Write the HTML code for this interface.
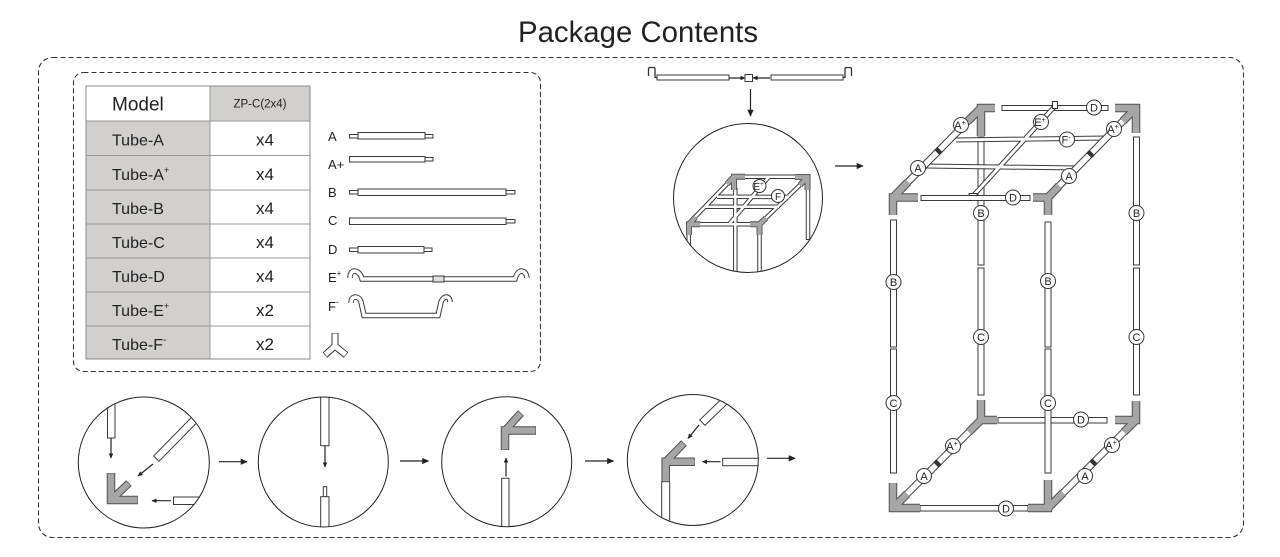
<!DOCTYPE html>
<html><head><meta charset="utf-8"><style>
html,body{margin:0;padding:0;background:#fff;width:1280px;height:557px;overflow:hidden;}
svg{display:block;}
text{font-family:"Liberation Sans",sans-serif;fill:#222;}
.t{fill:#fff;stroke:#3a3a3a;stroke-width:1;}
.dk{fill:none;stroke:#3a3a3a;stroke-linecap:butt;}
.wh{fill:none;stroke:#fff;stroke-linecap:butt;}
.gd{fill:none;stroke:#505050;stroke-width:8.5;stroke-linejoin:miter;stroke-linecap:butt;}
.gl{fill:none;stroke:#a6a6a6;stroke-width:6.5;stroke-linejoin:miter;stroke-linecap:butt;}
.lb{fill:#fff;stroke:#333;stroke-width:1;}
.ar{stroke:#222;stroke-width:1.2;fill:none;}
</style></head><body>
<svg width="1280" height="557" viewBox="0 0 1280 557" xmlns="http://www.w3.org/2000/svg">
<defs>
<marker id="ah" viewBox="0 0 10 10" refX="9" refY="5" markerWidth="9" markerHeight="7" markerUnits="userSpaceOnUse" orient="auto"><path d="M0,0.5 L10,5 L0,9.5z" fill="#222"/></marker>
<marker id="as" viewBox="0 0 10 10" refX="9" refY="5" markerWidth="6" markerHeight="5" markerUnits="userSpaceOnUse" orient="auto"><path d="M0,0.5 L10,5 L0,9.5z" fill="#222"/></marker>
<clipPath id="c0"><circle cx="748" cy="198" r="74.5"/></clipPath>
<clipPath id="c1"><circle cx="143.8" cy="462.5" r="65"/></clipPath>
<clipPath id="c2"><circle cx="323.3" cy="462" r="65"/></clipPath>
<clipPath id="c3"><circle cx="506.7" cy="461.7" r="65"/></clipPath>
<clipPath id="c4"><circle cx="692.8" cy="460" r="65"/></clipPath>
</defs>

<!-- Title -->
<text x="638" y="42" font-size="30" text-anchor="middle" textLength="240" lengthAdjust="spacingAndGlyphs">Package Contents</text>

<!-- Dashed boxes -->
<rect x="38.5" y="57.5" width="1205" height="480" rx="14" fill="none" stroke="#333" stroke-width="1.1" stroke-dasharray="5 3"/>
<rect x="73.5" y="72.5" width="467" height="299" rx="10" fill="none" stroke="#333" stroke-width="1.1" stroke-dasharray="5 3"/>

<!-- Table -->
<rect x="86" y="86" width="124" height="35" fill="#fff"/>
<rect x="210" y="86" width="100" height="35" fill="#d1d0ce"/>
<rect x="86" y="121" width="124" height="238" fill="#d1d0ce"/>
<rect x="210" y="121" width="100" height="238" fill="#fff"/>
<g stroke="#9a9a9a" stroke-width="1">
<line x1="86" y1="121" x2="310" y2="121"/>
<line x1="86" y1="155.5" x2="310" y2="155.5"/>
<line x1="86" y1="190" x2="310" y2="190"/>
<line x1="86" y1="224" x2="310" y2="224"/>
<line x1="86" y1="258" x2="310" y2="258"/>
<line x1="86" y1="292" x2="310" y2="292"/>
<line x1="86" y1="326" x2="310" y2="326"/>
<line x1="210" y1="86" x2="210" y2="359"/>
<rect x="86" y="86" width="224" height="273" fill="none" stroke="#888"/>
</g>
<text x="112" y="110.5" font-size="19">Model</text>
<text x="260" y="107.5" font-size="11.5" text-anchor="middle">ZP-C(2x4)</text>
<g font-size="16">
<text x="112" y="145.5">Tube-A</text>
<text x="112" y="180">Tube-A<tspan font-size="9" dy="-7">+</tspan></text>
<text x="112" y="214">Tube-B</text>
<text x="112" y="248">Tube-C</text>
<text x="112" y="282">Tube-D</text>
<text x="112" y="316">Tube-E<tspan font-size="9" dy="-7">+</tspan></text>
<text x="112" y="350">Tube-F<tspan font-size="10" dy="-7">-</tspan></text>
</g>
<g font-size="17" text-anchor="middle">
<text x="265" y="145.5">x4</text>
<text x="265" y="180">x4</text>
<text x="265" y="214">x4</text>
<text x="265" y="248">x4</text>
<text x="265" y="282">x4</text>
<text x="265" y="316">x2</text>
<text x="265" y="350">x2</text>
</g>

<!-- Tube list -->
<g font-size="13">
<text x="328" y="141">A</text>
<text x="328" y="169">A+</text>
<text x="328" y="197">B</text>
<text x="328" y="225">C</text>
<text x="328" y="254">D</text>
<text x="328" y="282">E<tspan font-size="8" dy="-6">+</tspan></text>
<text x="328" y="311">F<tspan font-size="9" dy="-6">-</tspan></text>
</g>
<g class="t">
<rect x="349.5" y="134.5" width="8.5" height="3.5"/>
<rect x="358" y="132.5" width="67" height="6.5"/>
<rect x="425" y="134.5" width="8" height="3.5"/>

<rect x="349.5" y="156.5" width="75.5" height="5.5"/>
<rect x="425" y="157.5" width="8" height="3.5"/>

<rect x="349.5" y="190.5" width="8.5" height="3.5"/>
<rect x="358" y="189" width="148" height="6.5"/>
<rect x="506" y="190.5" width="9" height="3.5"/>

<rect x="349.5" y="218" width="156.5" height="6.5"/>
<rect x="506" y="219.5" width="9" height="3.5"/>

<rect x="349.5" y="248" width="8.5" height="3.5"/>
<rect x="358" y="246.5" width="66" height="6.5"/>
<rect x="424" y="248" width="8" height="3.5"/>
</g>
<!-- E+ -->
<path class="dk" stroke-width="5.5" d="M350,278 Q350,271 355,271 Q360,272 362,279 L515,279 Q517,272 521,271 Q526,271 527,278"/>
<path class="wh" stroke-width="3.5" d="M350,278 Q350,271 355,271 Q360,272 362,279 L515,279 Q517,272 521,271 Q526,271 527,278"/>
<rect x="433" y="276" width="11" height="6" fill="#ddd" stroke="#3a3a3a" stroke-width="1"/>
<!-- F- -->
<path class="dk" stroke-width="5.5" d="M351,303 Q351,297 356,297 Q360,298 361,302 L364,315.5 L438,315.5 L441,302 Q443,297 447,297 Q450,298 450,302"/>
<path class="wh" stroke-width="3.5" d="M351,303 Q351,297 356,297 Q360,298 361,302 L364,315.5 L438,315.5 L441,302 Q443,297 447,297 Q450,298 450,302"/>
<!-- Y connector -->
<path class="dk" stroke-width="7" d="M335,333 L335,346 M335,346 L325,355 M335,346 L346,355"/>
<path class="wh" stroke-width="5" d="M335,333.5 L335,346 M335,346 L325.5,354.5 M335,346 L345.5,354.5"/>

<!-- Top center assembly -->
<path d="M657,77.5 L655,77.5 L655,69 Q655,67.5 653.5,67.5 L650,67.5 Q648.5,67.5 648.5,69 L648.5,76" fill="none" stroke="#333" stroke-width="1.3"/>
<rect class="t" x="657" y="75" width="72" height="5"/>
<line class="ar" x1="729" y1="78" x2="745" y2="78" marker-end="url(#as)" stroke-width="1"/>
<rect class="t" x="745" y="74.5" width="7.5" height="7"/>
<line class="ar" x1="770" y1="78" x2="753" y2="78" marker-end="url(#as)" stroke-width="1"/>
<rect class="t" x="771" y="75" width="72" height="5"/>
<path d="M843,77.5 L845,77.5 L845,69 Q845,67.5 846.5,67.5 L850,67.5 Q851.5,67.5 851.5,69 L851.5,76" fill="none" stroke="#333" stroke-width="1.3"/>
<line class="ar" x1="750.5" y1="89" x2="750.5" y2="116" marker-end="url(#ah)"/>

<g clip-path="url(#c0)">
<g class="dk" stroke-width="4.5">
<line x1="688.7" y1="233" x2="688.7" y2="290"/>
<line x1="735.3" y1="188" x2="735.3" y2="290"/>
<line x1="759.5" y1="233" x2="759.5" y2="290"/>
<line x1="808" y1="188" x2="808" y2="240"/>
<line x1="808" y1="244" x2="808" y2="290"/>
<line x1="745" y1="176.7" x2="796" y2="176.7"/>
<line x1="717" y1="196.7" x2="789" y2="197"/>
<line x1="705" y1="206.7" x2="779" y2="206.7"/>
<line x1="727" y1="184" x2="695" y2="217"/>
<line x1="800" y1="185" x2="766" y2="218"/>
<line x1="769" y1="176.7" x2="729" y2="224.3"/>
<line x1="699" y1="224.3" x2="751" y2="224.3"/>
</g>
<g class="wh" stroke-width="2.5">
<line x1="688.7" y1="234" x2="688.7" y2="290"/>
<line x1="735.3" y1="189" x2="735.3" y2="290"/>
<line x1="759.5" y1="234" x2="759.5" y2="290"/>
<line x1="808" y1="189" x2="808" y2="239"/>
<line x1="808" y1="245" x2="808" y2="290"/>
<line x1="745" y1="176.7" x2="796" y2="176.7"/>
<line x1="717" y1="196.7" x2="789" y2="197"/>
<line x1="705" y1="206.7" x2="779" y2="206.7"/>
<line x1="727" y1="184" x2="695" y2="217"/>
<line x1="800" y1="185" x2="766" y2="218"/>
<line x1="769" y1="176.7" x2="729" y2="224.3"/>
<line x1="699" y1="224.3" x2="751" y2="224.3"/>
</g>
<g fill="none" stroke="#505050" stroke-width="6" stroke-linejoin="miter">
<polyline points="745,176.7 734,176.7 734,190"/><line x1="734" y1="176.7" x2="727" y2="184"/>
<polyline points="795,177 807.5,177 807.5,190"/><line x1="807.5" y1="177" x2="800" y2="185"/>
<polyline points="700,224.3 689,224.3 689,235"/><line x1="689" y1="224.3" x2="695.5" y2="217"/>
<polyline points="750,224.3 759.5,224.3 759.5,235"/><line x1="759.5" y1="224.3" x2="766" y2="218"/>
</g>
<g fill="none" stroke="#a6a6a6" stroke-width="4.2" stroke-linejoin="miter">
<polyline points="745,176.7 734,176.7 734,190"/><line x1="734" y1="176.7" x2="727" y2="184"/>
<polyline points="795,177 807.5,177 807.5,190"/><line x1="807.5" y1="177" x2="800" y2="185"/>
<polyline points="700,224.3 689,224.3 689,235"/><line x1="689" y1="224.3" x2="695.5" y2="217"/>
<polyline points="750,224.3 759.5,224.3 759.5,235"/><line x1="759.5" y1="224.3" x2="766" y2="218"/>
</g>
<circle class="lb" cx="759.5" cy="186" r="6.5"/>
<text x="758.5" y="190" font-size="10" text-anchor="middle">E<tspan font-size="6" dy="-4">+</tspan></text>
<circle class="lb" cx="778" cy="196" r="6.5"/>
<text x="778" y="200" font-size="10" text-anchor="middle">F</text>
</g>
<circle cx="748" cy="198" r="74.5" fill="none" stroke="#222" stroke-width="1"/>
<line class="ar" x1="835" y1="166" x2="863" y2="166" marker-end="url(#ah)"/>

<!-- Big frame -->
<g class="t">
<rect x="978" y="137" width="6" height="128"/>
<rect x="978" y="268" width="6" height="127"/>
<rect x="1133.5" y="137" width="6" height="128"/>
<rect x="1133.5" y="268" width="6" height="127"/>
<rect x="1002" y="105.5" width="106" height="5"/>
<rect x="998" y="417.5" width="109" height="5.5"/>
</g>
<g class="dk" stroke-width="5">
<line x1="956" y1="140" x2="1106" y2="138"/>
<line x1="926" y1="166" x2="1078" y2="168"/>
<line x1="1055" y1="106" x2="973" y2="196"/>
</g>
<g class="wh" stroke-width="3">
<line x1="956" y1="140" x2="1106" y2="138"/>
<line x1="926" y1="166" x2="1078" y2="168"/>
<line x1="1055" y1="106" x2="973" y2="196"/>
</g>
<rect x="1052.5" y="101.5" width="5" height="7" fill="#fff" stroke="#333" stroke-width="1"/>
<rect x="969" y="193.5" width="8" height="4" fill="#fff" stroke="#333" stroke-width="1"/>
<g class="dk" stroke-width="7.5">
<line x1="969" y1="120" x2="907" y2="183"/>
<line x1="1124" y1="120" x2="1058" y2="187"/>
<line x1="970" y1="431" x2="906" y2="495"/>
<line x1="1125" y1="431" x2="1062" y2="494"/>
</g>
<g class="wh" stroke-width="5.5">
<line x1="969" y1="120" x2="907" y2="183"/>
<line x1="1124" y1="120" x2="1058" y2="187"/>
<line x1="970" y1="431" x2="906" y2="495"/>
<line x1="1125" y1="431" x2="1062" y2="494"/>
</g>
<g stroke="#333" stroke-width="7.5">
<line x1="940" y1="149.5" x2="937" y2="152.5"/>
<line x1="1092" y1="152.5" x2="1089" y2="155.5"/>
<line x1="939" y1="462" x2="936" y2="465"/>
<line x1="1095" y1="461" x2="1092" y2="464"/>
</g>
<g class="t">
<rect x="921" y="195.5" width="109" height="5"/>
<rect x="920" y="505.5" width="108" height="5.5"/>
<rect x="890.5" y="220" width="6" height="127"/>
<rect x="890.5" y="349" width="6" height="124"/>
<rect x="1045" y="222" width="6" height="125"/>
<rect x="1045" y="349" width="6" height="124"/>
</g>
<!-- corners -->
<g class="gd">
<polyline points="995,108 981,108 981,136"/><line x1="981" y1="108" x2="968" y2="121"/>
<polyline points="1115,108 1136,108 1136,133"/><line x1="1136" y1="108" x2="1123" y2="121"/>
<polyline points="918,197.5 893,197.5 893,215"/><line x1="893" y1="197.5" x2="908" y2="182"/>
<polyline points="1033,197.5 1048,197.5 1048,215"/><line x1="1048" y1="197.5" x2="1059" y2="186"/>
<polyline points="981,400 981,420 997,420"/><line x1="981" y1="420" x2="969" y2="432"/>
<polyline points="1136,401 1136,420 1115,420"/><line x1="1136" y1="420" x2="1124" y2="432"/>
<polyline points="893,483 893,508 920,508"/><line x1="893" y1="508" x2="907" y2="494"/>
<polyline points="1048,480 1048,508 1028,508"/><line x1="1048" y1="508" x2="1063" y2="493"/>
</g>
<g class="gl">
<polyline points="995,108 981,108 981,136"/><line x1="981" y1="108" x2="968" y2="121"/>
<polyline points="1115,108 1136,108 1136,133"/><line x1="1136" y1="108" x2="1123" y2="121"/>
<polyline points="918,197.5 893,197.5 893,215"/><line x1="893" y1="197.5" x2="908" y2="182"/>
<polyline points="1033,197.5 1048,197.5 1048,215"/><line x1="1048" y1="197.5" x2="1059" y2="186"/>
<polyline points="981,400 981,420 997,420"/><line x1="981" y1="420" x2="969" y2="432"/>
<polyline points="1136,401 1136,420 1115,420"/><line x1="1136" y1="420" x2="1124" y2="432"/>
<polyline points="893,483 893,508 920,508"/><line x1="893" y1="508" x2="907" y2="494"/>
<polyline points="1048,480 1048,508 1028,508"/><line x1="1048" y1="508" x2="1063" y2="493"/>
</g>
<!-- labels -->
<g font-size="11" text-anchor="middle">
<circle class="lb" cx="1094" cy="107.5" r="7.5"/><text x="1094" y="111.5">D</text>
<circle class="lb" cx="1041" cy="122" r="7.5"/><text x="1040" y="126">E<tspan font-size="7" dy="-4">+</tspan></text>
<circle class="lb" cx="1067" cy="139.5" r="7.5"/><text x="1066" y="143.5">F<tspan font-size="7" dy="-4">-</tspan></text>
<circle class="lb" cx="961" cy="125" r="7.5"/><text x="960" y="129">A<tspan font-size="7" dy="-4">+</tspan></text>
<circle class="lb" cx="918" cy="168" r="7.5"/><text x="918" y="172">A</text>
<circle class="lb" cx="1114" cy="129" r="7.5"/><text x="1113" y="133">A<tspan font-size="7" dy="-4">+</tspan></text>
<circle class="lb" cx="1069" cy="176" r="7.5"/><text x="1069" y="180">A</text>
<circle class="lb" cx="1013" cy="197.5" r="7.5"/><text x="1013" y="201.5">D</text>
<circle class="lb" cx="981" cy="213" r="7.5"/><text x="981" y="217">B</text>
<circle class="lb" cx="1136.5" cy="213" r="7.5"/><text x="1136.5" y="217">B</text>
<circle class="lb" cx="893.5" cy="282" r="7.5"/><text x="893.5" y="286">B</text>
<circle class="lb" cx="1048" cy="281" r="7.5"/><text x="1048" y="285">B</text>
<circle class="lb" cx="981" cy="337" r="7.5"/><text x="981" y="341">C</text>
<circle class="lb" cx="1136.5" cy="337" r="7.5"/><text x="1136.5" y="341">C</text>
<circle class="lb" cx="893.5" cy="403" r="7.5"/><text x="893.5" y="407">C</text>
<circle class="lb" cx="1048" cy="403" r="7.5"/><text x="1048" y="407">C</text>
<circle class="lb" cx="1081" cy="419.5" r="7.5"/><text x="1081" y="423.5">D</text>
<circle class="lb" cx="953" cy="446" r="7.5"/><text x="952" y="450">A<tspan font-size="7" dy="-4">+</tspan></text>
<circle class="lb" cx="924" cy="476" r="7.5"/><text x="924" y="480">A</text>
<circle class="lb" cx="1112" cy="445" r="7.5"/><text x="1111" y="449">A<tspan font-size="7" dy="-4">+</tspan></text>
<circle class="lb" cx="1085" cy="476" r="7.5"/><text x="1085" y="480">A</text>
<circle class="lb" cx="1006" cy="508.5" r="7.5"/><text x="1006" y="512.5">D</text>
</g>

<!-- Bottom step circles -->
<!-- Circle 1 -->
<g clip-path="url(#c1)">
<rect class="t" x="107.5" y="390" width="7.5" height="48"/>
<line x1="203" y1="411" x2="156" y2="459" stroke="#3a3a3a" stroke-width="8.5"/>
<line x1="203" y1="411" x2="156.7" y2="458.3" stroke="#fff" stroke-width="6.5"/>
<rect class="t" x="173.5" y="497" width="30" height="7.5"/>
</g>
<line class="ar" x1="111" y1="438" x2="111" y2="458" marker-end="url(#as)" stroke-width="1"/>
<line class="ar" x1="153" y1="464" x2="138" y2="476" marker-end="url(#as)" stroke-width="1"/>
<line class="ar" x1="171" y1="500.7" x2="152" y2="500.7" marker-end="url(#as)" stroke-width="1"/>
<g fill="none" stroke-linejoin="miter">
<polyline points="111,473 111,500 138,500" stroke="#505050" stroke-width="8.5"/>
<line x1="111" y1="500" x2="129" y2="483" stroke="#505050" stroke-width="8"/>
<polyline points="111,473.5 111,500 137.5,500" stroke="#a6a6a6" stroke-width="6.5"/>
<line x1="111" y1="500" x2="128.5" y2="483.5" stroke="#a6a6a6" stroke-width="6"/>
</g>
<circle cx="143.8" cy="462.5" r="65.5" fill="none" stroke="#222" stroke-width="1"/>
<line class="ar" x1="219" y1="461.7" x2="247" y2="461.7" marker-end="url(#ah)"/>

<!-- Circle 2 -->
<g clip-path="url(#c2)">
<rect class="t" x="320.7" y="390" width="8.3" height="55.7"/>
<rect class="t" x="323.3" y="486.7" width="3.4" height="10"/>
<rect class="t" x="320.7" y="496.7" width="8.3" height="40"/>
</g>
<line class="ar" x1="325" y1="445.7" x2="325" y2="467" marker-end="url(#as)" stroke-width="1"/>
<circle cx="323.3" cy="462" r="65" fill="none" stroke="#222" stroke-width="1"/>
<line class="ar" x1="400" y1="461" x2="428.5" y2="461" marker-end="url(#ah)"/>

<!-- Circle 3 -->
<g clip-path="url(#c3)">
<rect class="t" x="501.7" y="478.3" width="7.3" height="60"/>
</g>
<line class="ar" x1="506" y1="476.5" x2="506" y2="458" marker-end="url(#as)" stroke-width="1"/>
<g fill="none" stroke-linejoin="miter">
<polyline points="505,450 505,430.5 536,430.5" stroke="#505050" stroke-width="8.5"/>
<line x1="505" y1="430.5" x2="521" y2="413" stroke="#505050" stroke-width="8"/>
<polyline points="505,449.5 505,430.5 535.5,430.5" stroke="#a6a6a6" stroke-width="6.5"/>
<line x1="505" y1="430.5" x2="520.5" y2="413.5" stroke="#a6a6a6" stroke-width="6"/>
</g>
<circle cx="506.7" cy="461.7" r="65" fill="none" stroke="#222" stroke-width="1"/>
<line class="ar" x1="585" y1="461" x2="613.5" y2="461" marker-end="url(#ah)"/>

<!-- Circle 4 -->
<g clip-path="url(#c4)">
<rect class="t" x="661.7" y="481.7" width="8" height="50"/>
<line x1="732" y1="394" x2="702" y2="423" stroke="#3a3a3a" stroke-width="8.5"/>
<line x1="732" y1="394" x2="702.7" y2="422.3" stroke="#fff" stroke-width="6.5"/>
<rect class="t" x="722.7" y="458.3" width="40" height="7.4"/>
</g>
<line class="ar" x1="699" y1="425" x2="688" y2="438.5" marker-end="url(#as)" stroke-width="1"/>
<line class="ar" x1="720.5" y1="461.7" x2="702.5" y2="461.7" marker-end="url(#as)" stroke-width="1"/>
<g fill="none" stroke-linejoin="miter">
<polyline points="665.7,481.7 665.7,461.7 695,461.7" stroke="#505050" stroke-width="8.5"/>
<line x1="665.7" y1="461.7" x2="684" y2="443" stroke="#505050" stroke-width="8"/>
<polyline points="665.7,481.2 665.7,461.7 694.5,461.7" stroke="#a6a6a6" stroke-width="6.5"/>
<line x1="665.7" y1="461.7" x2="683.5" y2="443.5" stroke="#a6a6a6" stroke-width="6"/>
</g>
<circle cx="692.8" cy="460" r="65.5" fill="none" stroke="#222" stroke-width="1"/>
<line class="ar" x1="767" y1="458.3" x2="795" y2="458.3" marker-end="url(#ah)"/>
</svg>
</body></html>
